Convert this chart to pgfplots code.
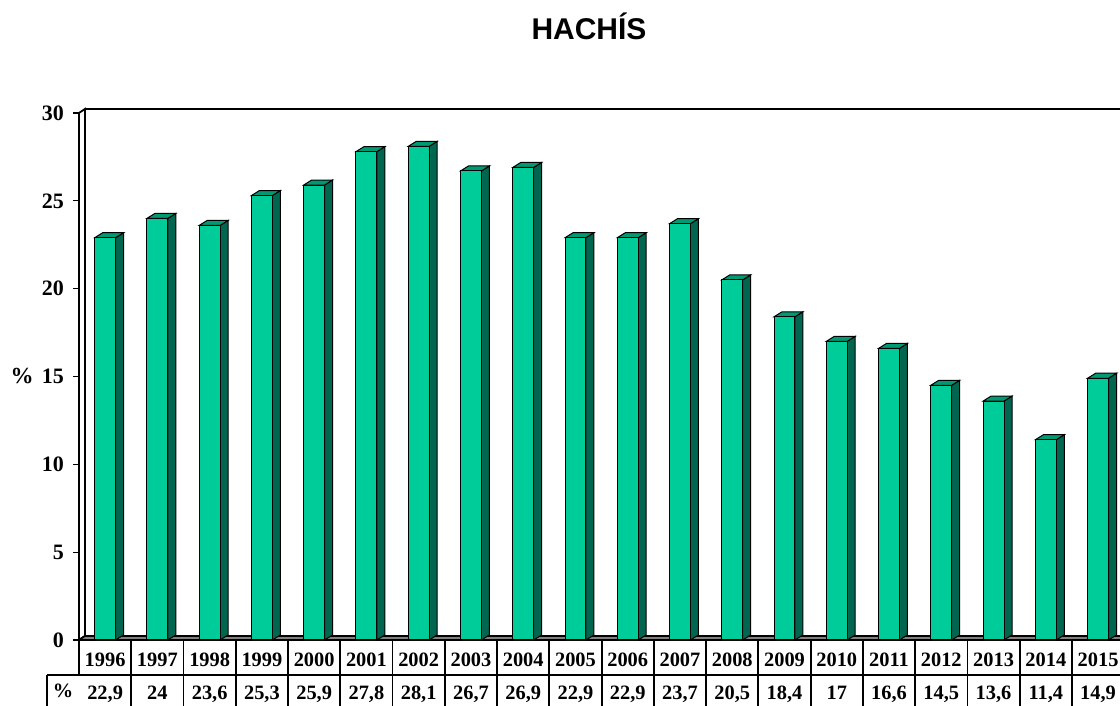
\documentclass[border=0pt]{standalone}
\usepackage{pgfplots}
\pgfplotsset{compat=1.18}
\usepackage{pgfplotstable}
\usepackage{fontspec}
\setmainfont{Liberation Serif}
\setsansfont{Liberation Sans}
\definecolor{barfront}{HTML}{00CC99}
\definecolor{barside}{HTML}{006650}
\definecolor{bartop}{HTML}{009973}
\definecolor{floorgray}{HTML}{808080}

\pgfplotstableread{
x year val
0 1996 22.9
1 1997 24
2 1998 23.6
3 1999 25.3
4 2000 25.9
5 2001 27.8
6 2002 28.1
7 2003 26.7
8 2004 26.9
9 2005 22.9
10 2006 22.9
11 2007 23.7
12 2008 20.5
13 2009 18.4
14 2010 17
15 2011 16.6
16 2012 14.5
17 2013 13.6
18 2014 11.4
19 2015 14.9
}\datatable

\begin{document}
\begin{tikzpicture}
\useasboundingbox (0,0) rectangle (560pt,353pt);
\node[font=\sffamily\bfseries\fontsize{15}{18}\selectfont, anchor=base] at (294.5pt,333pt) {HACHÍS};
\begin{axis}[
  at={(39.5pt,33pt)}, anchor=south west,
  scale only axis, width=522.6pt, height=263.5pt,
  xmin=-0.5, xmax=19.5, ymin=0, ymax=30,
  clip=false,
  axis line style={draw=none},
  ytick={0,5,...,30}, ytick pos=left, tick align=outside,
  major tick length=3pt,
  ytick style={black, line width=0.6pt},
  yticklabel style={font=\bfseries\fontsize{11}{13}\selectfont, xshift=-1pt},
  xtick={0,...,19}, xtick style={draw=none},
  xticklabels from table={\datatable}{year},
  xticklabel style={anchor=center, yshift=-8pt, text height=1.35ex, text depth=0.35ex, inner sep=0pt, font=\bfseries\fontsize{10.2}{12}\selectfont},
  extra x ticks={0,...,19},
  extra x tick labels={{22,9},{24},{23,6},{25,3},{25,9},{27,8},{28,1},{26,7},{26,9},{22,9},{22,9},{23,7},{20,5},{18,4},{17},{16,6},{14,5},{13,6},{11,4},{14,9}},
  extra x tick style={tick label style={yshift=-16.5pt}, xtick style={draw=none}},
  /pgf/number format/assume math mode=true,
  every axis y label/.style={at={(rel axis cs:-0.0545,0.5)},anchor=center,font=\bfseries\fontsize{11.5}{13}\selectfont},
  ylabel={\%},
]
% left wall and floor
\draw[line width=0.9pt, fill=white] (-0.5,0) -- (-0.385,0.228) -- (-0.385,30.228) -- (-0.5,30) -- cycle;
\draw[line width=0.9pt] (-0.385,30.228) -- (20.5,30.228);
\draw[line width=0.9pt, fill=floorgray] (-0.5,0) -- (-0.385,0.228) -- (20.5,0.228) -- (20.5,0) -- cycle;
% table grid
\draw[line width=0.9pt] (-0.5,0) -- (-0.5,-1.99);
\draw[line width=0.9pt] (-1.112,-1.99) -- (20.5,-1.99);
\draw[line width=0.9pt] (-1.112,-1.99) -- (-1.112,-4.5);
\pgfplotsinvokeforeach{1,...,20}{\draw[line width=0.9pt] ({#1-0.5},0) -- ({#1-0.5},-4.5);}
\node[font=\bfseries\fontsize{10.2}{12}\selectfont, text height=1.35ex, text depth=0.35ex, inner sep=0pt] at (-0.806,-3.02) {\%};
% 3D faces
\pgfplotsforeachungrouped \i in {0,...,19}{%
  \pgfplotstablegetelem{\i}{val}\of\datatable
  \let\v=\pgfplotsretval
  \pgfmathsetmacro\xa{\i+0.2}%
  \pgfmathsetmacro\xb{\i+0.353}%
  \pgfmathsetmacro\xc{\i-0.2}%
  \pgfmathsetmacro\xd{\i-0.047}%
  \pgfmathsetmacro\vt{\v+0.285}%
  \edef\doplot{%
    \noexpand\addplot[fill=barside, draw=black, line width=0.5pt, mark=none] coordinates {(\xa,0) (\xb,0.285) (\xb,\vt) (\xa,\v)} -- cycle;
    \noexpand\addplot[fill=bartop, draw=black, line width=0.5pt, mark=none] coordinates {(\xc,\v) (\xd,\vt) (\xb,\vt) (\xa,\v)} -- cycle;
  }%
  \doplot
}
\addplot[ybar, bar width=0.4, fill=barfront, draw=black, line width=0.5pt] table[x=x,y=val]{\datatable};
\end{axis}
\end{tikzpicture}
\end{document}
